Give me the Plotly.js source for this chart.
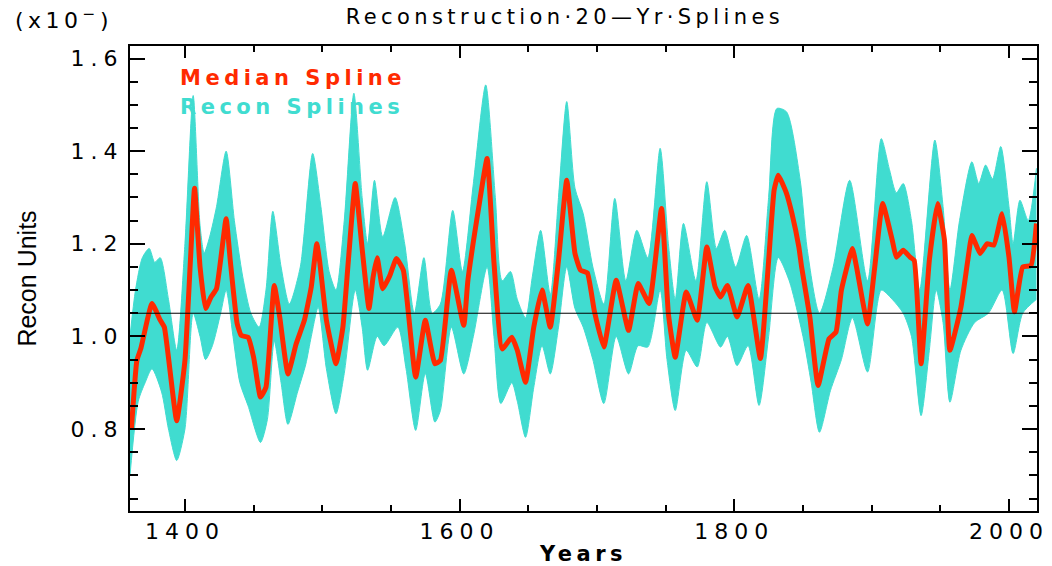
<!DOCTYPE html>
<html>
<head>
<meta charset="utf-8">
<script src="https://cdn.plot.ly/plotly-3.0.1.min.js"></script>
<style>
  html, body { margin: 0; padding: 0; background: #fff; }
  #chart { width: 1052px; height: 566px; }
  .xtick text, .ytick text { letter-spacing: 6px; }
  .gtitle { letter-spacing: 4.4px; }
  .annotation-text { letter-spacing: 4.5px; }
  .xtitle { letter-spacing: 4.5px; }
</style>
</head>
<body>
<div id="chart"></div>
<script>
// Median spline (red)
const medianYears = [1361,1365,1368,1376,1382,1385,1394,1400,1404,1407,1411,1415,1419,1423,1430,1433,1438,1441,1446,1450,1455,1459,1465,1469,1475,1481,1487,1492,1496,1498,1503,1510,1515,1519,1524,1529,1534,1537,1540,1544,1549,1554,1559,1568,1575,1582,1586,1594,1603,1606,1614,1620,1625,1631,1638,1642,1648,1654,1660,1666,1672,1678,1684,1688,1693,1698,1705,1714,1723,1730,1738,1747,1752,1757,1765,1773,1780,1786,1790,1795,1802,1810,1819,1825,1829,1832,1838,1842,1847,1849,1855,1861,1869,1874,1878,1886,1889,1897,1902,1908,1915,1918,1923,1928,1931,1936,1942,1948,1953,1957,1965,1970,1973,1979,1984,1989,1995,2000,2004,2010,2016,2020];
const medianValues = [0.80,0.948,0.975,1.071,1.035,1.02,0.818,0.948,1.164,1.32,1.15,1.06,1.085,1.103,1.254,1.164,1.028,1.002,0.998,0.955,0.869,0.89,1.11,1.042,0.919,0.984,1.035,1.107,1.20,1.164,1.035,0.941,1.02,1.164,1.33,1.19,1.06,1.128,1.17,1.103,1.13,1.168,1.143,0.912,1.035,0.941,0.948,1.143,1.024,1.12,1.28,1.384,1.16,0.973,0.998,0.97,0.901,1.02,1.10,1.02,1.164,1.337,1.179,1.143,1.137,1.056,0.977,1.121,1.013,1.114,1.071,1.276,1.049,0.955,1.096,1.035,1.193,1.107,1.085,1.11,1.042,1.11,0.952,1.164,1.316,1.348,1.309,1.265,1.193,1.15,1.042,0.894,0.995,1.009,1.10,1.19,1.15,1.027,1.143,1.287,1.208,1.171,1.186,1.171,1.164,0.941,1.164,1.287,1.208,0.97,1.063,1.164,1.218,1.179,1.20,1.197,1.265,1.171,1.053,1.15,1.153,1.244];

// Upper edge of the recon spline ensemble (cyan)
const upperYears = [1360,1364,1369,1374,1378,1382,1388,1394,1400,1406,1411,1414,1418,1423,1430,1436,1442,1448,1454,1459,1464,1470,1476,1484,1493,1499,1505,1510,1516,1523,1529,1533,1538,1544,1553,1560,1567,1574,1580,1586,1595,1602,1610,1619,1626,1631,1637,1642,1648,1653,1659,1666,1672,1678,1684,1690,1697,1705,1713,1721,1729,1737,1746,1752,1757,1763,1772,1780,1787,1793,1801,1809,1818,1825,1831,1838,1848,1853,1862,1872,1884,1897,1907,1913,1918,1923,1929,1935,1946,1952,1957,1964,1973,1978,1983,1988,1994,2000,2003,2008,2014,2020];
const upperValues = [1.00,1.10,1.17,1.19,1.16,1.17,1.08,0.97,1.20,1.52,1.24,1.18,1.215,1.28,1.40,1.25,1.13,1.05,1.02,1.10,1.27,1.15,1.07,1.15,1.395,1.28,1.14,1.10,1.25,1.525,1.30,1.20,1.337,1.215,1.30,1.20,1.05,1.17,1.05,1.07,1.272,1.14,1.33,1.543,1.30,1.12,1.14,1.08,1.04,1.13,1.229,1.09,1.30,1.507,1.32,1.265,1.15,1.07,1.298,1.12,1.229,1.17,1.406,1.20,1.08,1.244,1.12,1.334,1.19,1.229,1.15,1.218,1.08,1.30,1.492,1.485,1.337,1.19,1.05,1.15,1.337,1.12,1.427,1.36,1.31,1.33,1.25,1.10,1.424,1.28,1.10,1.25,1.377,1.33,1.37,1.34,1.41,1.28,1.20,1.294,1.25,1.363];

// Lower edge of the recon spline ensemble (cyan)
const lowerYears = [1360,1366,1371,1376,1383,1388,1394,1400,1406,1411,1415,1420,1426,1430,1435,1440,1446,1455,1460,1465,1470,1475,1482,1488,1492,1497,1503,1510,1516,1524,1529,1533,1540,1545,1555,1561,1568,1575,1582,1586,1594,1603,1610,1620,1625,1630,1638,1642,1648,1654,1660,1666,1672,1678,1684,1690,1697,1705,1714,1723,1730,1737,1746,1751,1757,1765,1773,1780,1790,1795,1802,1810,1818,1825,1832,1840,1850,1856,1862,1870,1878,1886,1897,1907,1915,1923,1929,1936,1942,1947,1952,1957,1965,1975,1985,1995,2003,2010,2020];
const lowerValues = [0.70,0.86,0.90,0.93,0.88,0.80,0.732,0.80,1.05,1.0,0.95,0.98,1.05,1.10,1.0,0.90,0.85,0.771,0.82,0.99,0.90,0.81,0.88,0.94,1.0,1.063,0.93,0.833,0.92,1.10,1.02,0.927,1.0,0.98,1.02,0.93,0.797,0.92,0.815,0.84,1.02,0.919,1.0,1.15,1.0,0.855,0.90,0.86,0.782,0.89,0.98,0.919,1.02,1.15,1.06,1.02,0.95,0.855,1.0,0.919,0.98,0.977,1.10,0.95,0.84,0.97,0.934,1.03,0.977,1.0,0.937,0.98,0.851,1.0,1.17,1.12,1.0,0.9,0.793,0.883,0.95,1.04,0.923,1.10,1.08,1.05,1.0,0.829,0.97,1.10,1.03,0.858,0.97,1.03,1.05,1.1,0.963,1.05,1.08];

const refLevel = 1.05;

const cyan = '#40DCD0';
const red = '#FF2A00';

const traces = [
  { x: lowerYears, y: lowerValues, type: 'scatter', mode: 'lines',
    line: { color: cyan, width: 1, shape: 'spline', smoothing: 0.7 }, hoverinfo: 'skip', showlegend: false },
  { x: upperYears, y: upperValues, type: 'scatter', mode: 'lines', fill: 'tonexty', fillcolor: cyan,
    line: { color: cyan, width: 1, shape: 'spline', smoothing: 0.7 }, hoverinfo: 'skip', showlegend: false },
  { x: medianYears, y: medianValues, type: 'scatter', mode: 'lines',
    line: { color: red, width: 5, shape: 'spline', smoothing: 0.4 }, showlegend: false }
];

const tickFont = { family: 'DejaVu Sans', size: 22, color: '#000' };

const layout = {
  width: 1052, height: 566,
  margin: { l: 130, r: 15, t: 46, b: 55 },
  paper_bgcolor: '#fff', plot_bgcolor: '#fff',
  showlegend: false,
  title: { text: 'Reconstruction·20—Yr·Splines', font: { family: 'DejaVu Sans', size: 21, color: '#000' },
           x: 0.537, xref: 'container', xanchor: 'center', y: 0.97, yref: 'container', yanchor: 'middle' },
  xaxis: {
    range: [1360, 2020.4], showgrid: false, zeroline: false,
    showline: true, linecolor: '#000', linewidth: 2, mirror: 'allticks',
    ticks: 'inside', ticklen: 12, tickwidth: 2, tickcolor: '#000',
    tick0: 1400, dtick: 200, tickfont: tickFont,
    minor: { dtick: 50, tick0: 1400, ticks: 'inside', ticklen: 6, tickwidth: 2, tickcolor: '#000' },
    title: { text: '<b>Years</b>', font: { family: 'DejaVu Sans', size: 21, color: '#000' }, standoff: 4 }
  },
  yaxis: {
    range: [0.623, 1.627], showgrid: false, zeroline: false,
    showline: true, linecolor: '#000', linewidth: 2, mirror: 'allticks',
    ticks: 'inside', ticklen: 15, tickwidth: 2, tickcolor: '#000',
    tick0: 0, dtick: 0.2, tickformat: '.1f', tickfont: tickFont,
    minor: { dtick: 0.05, tick0: 0, ticks: 'inside', ticklen: 8, tickwidth: 2, tickcolor: '#000' },
    title: { text: 'Recon Units', font: { family: 'Liberation Sans Narrow, Liberation Sans', size: 25, color: '#000' }, standoff: 27 }
  },
  shapes: [
    { type: 'line', xref: 'paper', x0: 0, x1: 1, yref: 'y', y0: refLevel, y1: refLevel,
      line: { color: '#000', width: 1 } }
  ],
  annotations: [
    { text: '<b>Median Spline</b>', xref: 'paper', yref: 'paper', x: 0.053, y: 0.931, xanchor: 'left', yanchor: 'middle',
      showarrow: false, font: { family: 'DejaVu Sans', size: 21, color: red } },
    { text: '<b>Recon Splines</b>', xref: 'paper', yref: 'paper', x: 0.053, y: 0.869, xanchor: 'left', yanchor: 'middle',
      showarrow: false, font: { family: 'DejaVu Sans', size: 21, color: cyan } },
    { text: '(x10<sup>−</sup>)', xref: 'paper', yref: 'paper', x: -0.129, y: 1.058, xanchor: 'left', yanchor: 'middle',
      showarrow: false, font: { family: 'DejaVu Sans', size: 22, color: '#000' } }
  ]
};

Plotly.newPlot('chart', traces, layout, { displayModeBar: false, staticPlot: true });
</script>
</body>
</html>
